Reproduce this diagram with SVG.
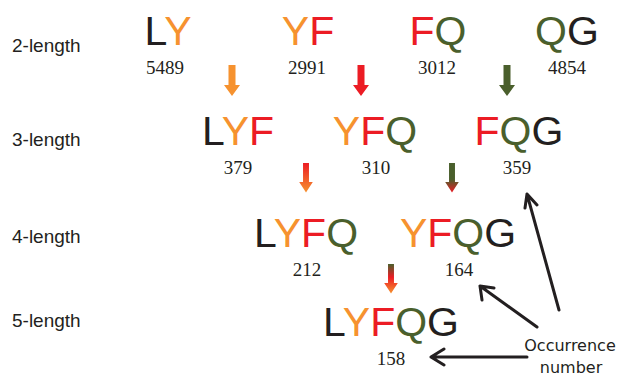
<svg xmlns="http://www.w3.org/2000/svg" width="619" height="377" viewBox="0 0 619 377">
  <style>
    .lbl { font-family: "Liberation Sans", Arial, sans-serif; font-size: 19px; fill: #231f20; }
    .seq { font-family: "Liberation Sans", Arial, sans-serif; font-size: 41px; text-anchor: middle; }
    .num { font-family: "Liberation Serif", "Times New Roman", serif; font-size: 19px; fill: #231f20; text-anchor: middle; }
    .note { font-family: "DejaVu Sans", "Liberation Sans", sans-serif; font-size: 16px; fill: #231f20; text-anchor: middle; }
    .k { fill: #231f20; }
    .o { fill: #f6922f; }
    .r { fill: #ec1c24; }
    .g { fill: #4a5f2c; }
    .ptr { fill: none; stroke: #231f20; stroke-width: 3; stroke-linecap: round; stroke-linejoin: round; }
  </style>
  <defs>
    <!-- downward block arrow, tip at y=31 -->
    <path id="down" d="M-3.5,0 H3.5 V20 H8 L0,31 L-8,20 H-3.5 Z"/>
    <linearGradient id="gRO" x1="0" y1="0" x2="0" y2="1">
      <stop offset="0" stop-color="#ec1c24"/>
      <stop offset="1" stop-color="#f6922f"/>
    </linearGradient>
    <linearGradient id="gGR" x1="0" y1="0" x2="0" y2="1">
      <stop offset="0" stop-color="#4a5f2c"/>
      <stop offset="0.55" stop-color="#4a5f2c"/>
      <stop offset="1" stop-color="#ec1c24"/>
    </linearGradient>
    <linearGradient id="gGRO" x1="0" y1="0" x2="0" y2="1">
      <stop offset="0" stop-color="#4a5f2c"/>
      <stop offset="0.45" stop-color="#ec1c24"/>
      <stop offset="1" stop-color="#f6922f"/>
    </linearGradient>
  </defs>

  <!-- row labels -->
  <g id="labels">
    <text class="lbl" x="12" y="52">2-length</text>
    <text class="lbl" x="12" y="146">3-length</text>
    <text class="lbl" x="12" y="243">4-length</text>
    <text class="lbl" x="12" y="327">5-length</text>
  </g>

  <!-- 2-length -->
  <g id="LY"><text class="seq" x="168" y="45"><tspan class="k">L</tspan><tspan class="o">Y</tspan></text><text class="num" x="165" y="74">5489</text></g>
  <g id="YF"><text class="seq" x="308" y="45"><tspan class="o">Y</tspan><tspan class="r">F</tspan></text><text class="num" x="307" y="74">2991</text></g>
  <g id="FQ"><text class="seq" x="438" y="45"><tspan class="r">F</tspan><tspan class="g">Q</tspan></text><text class="num" x="437" y="74">3012</text></g>
  <g id="QG"><text class="seq" x="567" y="45"><tspan class="g">Q</tspan><tspan class="k">G</tspan></text><text class="num" x="567" y="74">4854</text></g>

  <!-- 3-length -->
  <g id="LYF"><text class="seq" x="238" y="145"><tspan class="k">L</tspan><tspan class="o">Y</tspan><tspan class="r">F</tspan></text><text class="num" x="238" y="174">379</text></g>
  <g id="YFQ"><text class="seq" x="375" y="145"><tspan class="o">Y</tspan><tspan class="r">F</tspan><tspan class="g">Q</tspan></text><text class="num" x="376" y="174">310</text></g>
  <g id="FQG"><text class="seq" x="519" y="145"><tspan class="r">F</tspan><tspan class="g">Q</tspan><tspan class="k">G</tspan></text><text class="num" x="517" y="174">359</text></g>

  <!-- 4-length -->
  <g id="LYFQ"><text class="seq" x="306" y="247"><tspan class="k">L</tspan><tspan class="o">Y</tspan><tspan class="r">F</tspan><tspan class="g">Q</tspan></text><text class="num" x="307" y="276">212</text></g>
  <g id="YFQG"><text class="seq" x="458" y="247"><tspan class="o">Y</tspan><tspan class="r">F</tspan><tspan class="g">Q</tspan><tspan class="k">G</tspan></text><text class="num" x="459" y="276">164</text></g>

  <!-- 5-length -->
  <g id="LYFQG"><text class="seq" x="391" y="336"><tspan class="k">L</tspan><tspan class="o">Y</tspan><tspan class="r">F</tspan><tspan class="g">Q</tspan><tspan class="k">G</tspan></text><text class="num" x="391" y="365">158</text></g>

  <g id="note"><text class="note" x="570" y="351">Occurrence</text><text class="note" x="571" y="373">number</text></g>

  <!-- connectors -->
  <g id="connectors">
    <use href="#down" class="o" transform="translate(232,65)"/>
    <use href="#down" class="r" transform="translate(361,65)"/>
    <use href="#down" class="g" transform="translate(507,65)"/>
    <use href="#down" fill="url(#gRO)" transform="translate(306,163) scale(0.85,0.95)"/>
    <use href="#down" fill="url(#gGR)" transform="translate(452,163) scale(0.85,0.95)"/>
    <use href="#down" fill="url(#gGRO)" transform="translate(391,264) scale(0.85,0.95)"/>

    <path class="ptr" d="M527,357 H431 M444,349 L431,357 L444,365"/>
    <path class="ptr" d="M537,327 L480,286 M482,300 L480,286 L494,288"/>
    <path class="ptr" d="M559,310 L527,194 M525,208 L527,194 L537,205"/>
  </g>
</svg>
